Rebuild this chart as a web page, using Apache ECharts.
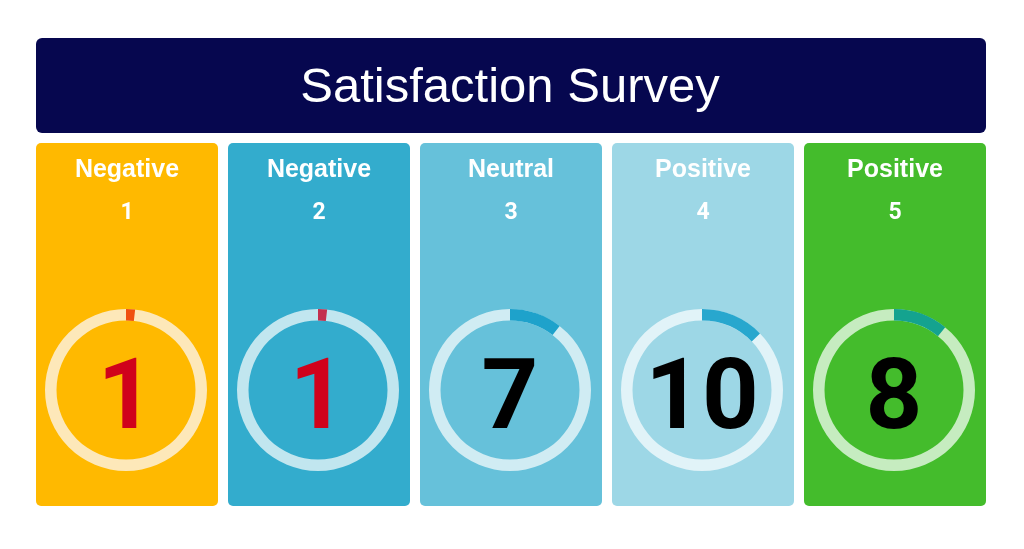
<!DOCTYPE html>
<html>
<head>
<meta charset="utf-8">
<script src="https://cdn.jsdelivr.net/npm/echarts@6/dist/echarts.min.js"></script>
<style>
html,body{margin:0;padding:0;background:#ffffff;}
#chart{width:1024px;height:549px;}
</style>
</head>
<body>
<div id="chart"></div>
<script>
// ---- data ----
var chartTitle = 'Satisfaction Survey';
var sentiments = ['Negative', 'Negative', 'Neutral', 'Positive', 'Positive'];
var scores = ['1', '2', '3', '4', '5'];
var counts = [1, 1, 7, 10, 8];
// share of the ring filled (percent), read from arc lengths
var arcShare = [1.8, 1.8, 10.5, 12.7, 10.9];

// ---- styles ----
var cardColors = ['#FFB900', '#33ACCD', '#66C1DA', '#9DD7E6', '#44BC2C'];
var trackColors = ['#FDE8B9', '#C1E6EF', '#D0ECF3', '#E1F3F8', '#C6ECC0'];
var arcColors = ['#F0500F', '#C3304E', '#1EA2CB', '#28A7CE', '#14A38F'];
var numberColors = ['#D0021B', '#D0021B', '#000000', '#000000', '#000000'];
var FONT = 'Liberation Sans';
var NUMFONT = 'Roboto';

var chart = echarts.init(document.getElementById('chart'), null, {renderer: 'canvas'});

var cardX0 = 36, cardW = 182, cardGap = 10, cardY = 143, cardH = 363;
var ringCY = 390;

var graphics = [
  {type: 'rect', shape: {x: 36, y: 38, width: 950, height: 95, r: 6}, style: {fill: '#06074F'}, z: 0},
  {type: 'text', x: 510, y: 88, style: {text: chartTitle, fill: '#ffffff', font: '49px "' + FONT + '"', textAlign: 'center', textVerticalAlign: 'middle'}, z: 1}
];
var series = [];

sentiments.forEach(function (s, i) {
  var x = cardX0 + i * (cardW + cardGap);
  var cx = x + cardW / 2;
  graphics.push({type: 'rect', shape: {x: x, y: cardY, width: cardW, height: cardH, r: 5}, style: {fill: cardColors[i]}, z: 0});
  graphics.push({type: 'text', x: cx, y: 170, style: {text: s, fill: '#ffffff', font: 'bold 25px "' + FONT + '"', textAlign: 'center', textVerticalAlign: 'middle'}, z: 1});
  graphics.push({type: 'text', x: cx, y: 213, style: {text: scores[i], fill: '#ffffff', font: 'bold 23px "' + NUMFONT + '"', textAlign: 'center', textVerticalAlign: 'middle'}, z: 1});
  series.push({
    type: 'gauge',
    center: [cx - 1, ringCY],
    radius: 81,
    startAngle: 90,
    endAngle: -270,
    clockwise: true,
    min: 0,
    max: 100,
    z: 5,
    pointer: {show: false},
    anchor: {show: false},
    axisTick: {show: false},
    splitLine: {show: false},
    axisLabel: {show: false},
    title: {show: false},
    axisLine: {lineStyle: {width: 11.5, color: [[1, trackColors[i]]]}},
    progress: {show: true, width: 11.5, roundCap: false, itemStyle: {color: arcColors[i]}},
    detail: {
      show: true,
      offsetCenter: [0, 13],
      formatter: function () { return '{n|' + counts[i] + '}'; },
      rich: {
        n: {
          fontSize: 99,
          fontWeight: 'bold',
          fontFamily: NUMFONT,
          color: numberColors[i]
        }
      }
    },
    data: [{value: arcShare[i]}]
  });
});

chart.setOption({
  animation: false,
  backgroundColor: '#ffffff',
  graphic: graphics,
  series: series
});
</script>
</body>
</html>
